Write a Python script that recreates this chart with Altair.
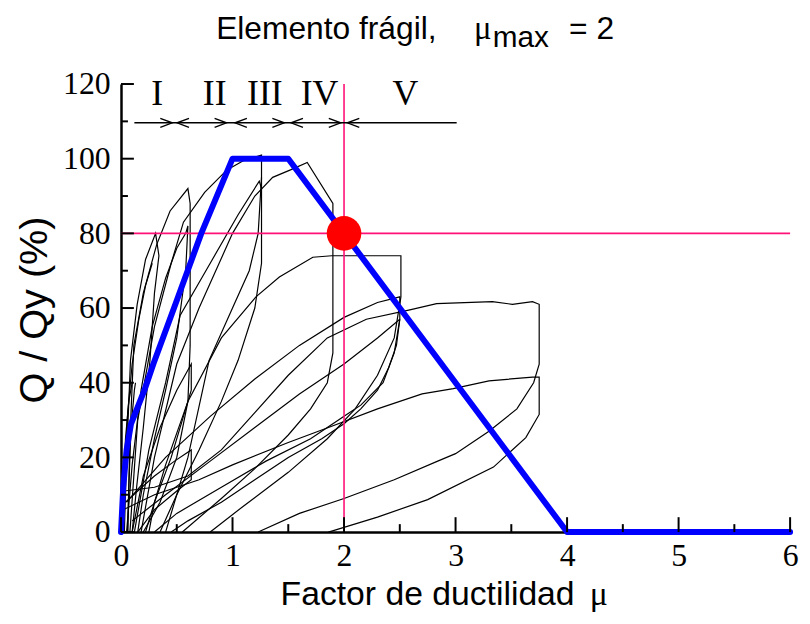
import altair as alt
import pandas as pd

# ---------------- data ----------------
# blue idealised envelope (ductility factor, Q/Qy %)
env_x = [0, 0.02, 0.05, 0.09, 0.13, 0.21, 0.29, 0.5, 0.72, 1.0, 1.5, 4.0, 6.0]
env_y = [0, 12, 22, 29, 32, 38, 45, 62, 80, 100, 100, 0, 0]

# black hysteresis loops
k1_x = [0.03, 0.05, 0.085, 0.145, 0.22, 0.31, 0.34, 0.30, 0.26, 0.20, 0.14, 0.10]
k1_y = [0, 20, 46, 61, 73, 80, 74, 64, 46, 28, 12, 0]
k2_x = [0.06, 0.08, 0.115, 0.2, 0.32, 0.44, 0.60, 0.62, 0.62, 0.60, 0.50, 0.35, 0.20]
k2_y = [0, 25, 50, 64, 77, 86, 92, 88, 50, 35, 20, 8, 0]
k3_x = [0.04, 0.15, 0.3, 0.48, 0.63, 0.63, 0.5, 0.3, 0.15]
k3_y = [8, 11, 15, 19, 22, 14, 11, 6, 0]
k4_x = [0.08, 0.15, 0.3, 0.45, 0.56, 0.75, 0.95, 1.1, 1.26, 1.26, 1.2, 1.05, 0.9, 0.7, 0.5, 0.35]
k4_y = [0, 30, 55, 72, 83, 91, 97, 99.5, 101, 72, 60, 46, 35, 22, 10, 0]
k5_x = [0.12, 0.25, 0.4, 0.53, 0.8, 1.05, 1.24, 1.26]
k5_y = [0, 22, 40, 58, 72, 85, 94, 92]
k6_x = [0.18, 0.3, 0.5, 0.7, 1.0, 1.2, 1.36, 1.52, 1.67, 1.9, 1.9, 1.85, 1.7, 1.5, 1.2, 0.9, 0.55]
k6_y = [0, 20, 45, 60, 80, 90, 95, 97, 99, 88, 48, 40, 33, 26, 17, 9, 0]
k7_x = [0.4, 0.6, 0.79, 1.0, 1.15, 1.23, 1.26]
k7_y = [0, 20, 46, 60, 70, 80, 95]
k8_x = [0.22, 0.4, 0.6, 0.9, 1.21, 1.42, 1.72, 1.89, 2.2, 2.51, 2.51, 2.45, 2.3, 2.1, 1.85, 1.5, 1.1, 0.8]
k8_y = [0, 18, 35, 52, 63, 68.3, 73.6, 74, 74, 74, 63, 52, 42, 33, 25, 16, 7, 0]
k9_x = [0.05, 0.4, 0.8, 1.2, 1.6, 2.0, 2.3, 2.5, 2.5, 2.45, 2.35, 2.15, 2.0, 1.7, 1.3, 0.9, 0.5, 0.3]
k9_y = [8, 20, 31, 41, 50, 57.5, 61.5, 63, 57, 48, 40, 34, 31, 25, 19, 12, 5, 0]
k10_x = [0.03, 0.3, 0.6, 0.9, 1.2, 1.5, 1.85, 2.2, 2.59, 2.83, 3.33, 3.51, 3.69, 3.75,
         3.75, 3.7, 3.55, 3.3, 3.0, 2.84, 2.45, 2.0, 1.6, 1.23]
k10_y = [11, 12, 15, 22, 32, 42, 52, 57, 59.5, 61.2, 61.7, 61, 61.7, 61,
         45, 40, 33, 27, 21, 19, 14, 9, 5, 0]
k11_x = [0.02, 0.3, 0.7, 1.0, 1.5, 1.86, 2.3, 2.7, 2.98, 3.3, 3.69, 3.75, 3.75, 3.63, 3.34, 2.75, 2.3, 1.86]
k11_y = [6, 10, 14, 18, 24, 28, 33, 37, 38.4, 40.5, 41.5, 41.5, 31.5, 25.3, 17.4, 8.7, 4, 0]
k12_x = [0.01, 0.03, 0.06, 0.1, 0.16, 0.22, 0.28]
k12_y = [0, 15, 32, 45, 57, 66, 72]
k13_x = [0.05, 0.1, 0.18, 0.28, 0.4, 0.5, 0.58, 0.6, 0.58, 0.5, 0.4, 0.3, 0.2, 0.15]
k13_y = [0, 18, 38, 55, 68, 76, 80, 82, 70, 52, 38, 25, 10, 0]
k14_x = [0.1, 0.2, 0.35, 0.5, 0.63, 0.63, 0.55, 0.45, 0.3, 0.25]
k14_y = [0, 15, 28, 38, 45, 38, 30, 20, 8, 0]
k15_x = [0.1, 0.4, 0.8, 1.2, 1.6, 2.0, 2.3, 2.5]
k15_y = [3, 10, 19, 28, 37, 45, 52, 57]
k16_x = [2.5, 2.47, 2.4, 2.3, 2.15, 2.0, 1.8, 1.5, 1.2, 0.9, 0.6, 0.45]
k16_y = [57, 50, 44, 38, 33, 29, 25, 20, 14, 8, 3, 0]
k17_x = [0.0, 0.02, 0.04, 0.07, 0.1]
k17_y = [0, 10, 25, 35, 40]
k18_x = [0.06, 0.07, 0.09, 0.12, 0.13]
k18_y = [0, 12, 28, 38, 40]

# annotation values
mu_max = 2
q_level = 80
stage_labels = ["I", "II", "III", "IV", "V"]
stage_x = [0.325, 0.84, 1.29, 1.78, 2.55]
stage_y = 117.2
arrow_y = 109.6
arrow_x0, arrow_x1 = 0.12, 3.01
right_tips = [0.459, 0.946, 1.464, 1.97]
left_tips = [0.503, 1.022, 1.525, 2.03]

# axis ticks
xt_major = [0, 1, 2, 3, 4, 5, 6]
xt_minor = [0.5, 1.5, 2.5, 3.5, 4.5, 5.5]
yt_major = [0, 20, 40, 60, 80, 100, 120]
yt_minor = [10, 30, 50, 70, 90, 110]

# ---------------- build ----------------
W, H = 675, 452
xs = alt.Scale(domain=[0, 6], nice=False, zero=False)
ys = alt.Scale(domain=[0, 120], nice=False, zero=False)

loops = [(k1_x, k1_y), (k2_x, k2_y), (k3_x, k3_y), (k4_x, k4_y), (k5_x, k5_y),
         (k6_x, k6_y), (k7_x, k7_y), (k8_x, k8_y), (k9_x, k9_y), (k10_x, k10_y),
         (k11_x, k11_y), (k12_x, k12_y), (k13_x, k13_y), (k14_x, k14_y),
         (k15_x, k15_y), (k16_x, k16_y), (k17_x, k17_y), (k18_x, k18_y)]
rows = []
for cid, (lx, ly) in enumerate(loops):
    for i, (a, b) in enumerate(zip(lx, ly)):
        rows.append({"id": cid, "i": i, "x": a, "y": b})
loop_df = pd.DataFrame(rows)
env_df = pd.DataFrame({"x": env_x, "y": env_y, "i": list(range(len(env_x)))})

x_axis = alt.Axis(values=xt_major, ticks=False, grid=False, domainColor="black",
                  domainWidth=2.5, labelFont="Liberation Serif", labelFontSize=32,
                  labelColor="black", labelPadding=9, labelFlush=False,
                  labelOverlap=False, title=None)
y_axis = alt.Axis(values=yt_major, ticks=False, grid=False, domainColor="black",
                  domainWidth=2.5, labelFont="Liberation Serif", labelFontSize=32,
                  labelColor="black", labelPadding=11, labelFlush=False,
                  labelOverlap=False, title=None)


def X(field="x"):
    return alt.X(field + ":Q", scale=xs, axis=x_axis)


def Y(field="y"):
    return alt.Y(field + ":Q", scale=ys, axis=y_axis)


curves = alt.Chart(loop_df).mark_line(color="black", strokeWidth=1.2).encode(
    x=X(), y=Y(), detail="id:N", order="i:Q")

pink = "#ff1177"
hline = alt.Chart(pd.DataFrame({"y": [q_level]})).mark_rule(color=pink, strokeWidth=1.6).encode(
    y=Y(), x=alt.value(0), x2=alt.value(W))
vline = alt.Chart(pd.DataFrame({"x": [mu_max], "y": [0], "y2": [120]})).mark_rule(
    color=pink, strokeWidth=1.6).encode(x=X(), y=Y(), y2="y2:Q")

envelope = alt.Chart(env_df).mark_line(color="#0000ff", strokeWidth=6, strokeJoin="round",
                                       strokeCap="round").encode(x=X(), y=Y(), order="i:Q")

dot = alt.Chart(pd.DataFrame({"x": [mu_max], "y": [q_level]})).mark_circle(
    color="#ff0000", size=1220, opacity=1).encode(x=X(), y=Y())

# stage band arrows
arrow_line = alt.Chart(pd.DataFrame({"x": [arrow_x0], "x2": [arrow_x1], "y": [arrow_y]})).mark_rule(
    color="black", strokeWidth=1.5).encode(x=X(), x2="x2:Q", y=Y())
heads_r = alt.Chart(pd.DataFrame({"x": right_tips, "y": [arrow_y] * 4})).mark_point(
    shape="M -2 -0.75 L 0 0 L -2 0.75", size=144, filled=False, color="black",
    strokeWidth=1.4, opacity=1).encode(x=X(), y=Y())
heads_l = alt.Chart(pd.DataFrame({"x": left_tips, "y": [arrow_y] * 4})).mark_point(
    shape="M 2 -0.75 L 0 0 L 2 0.75", size=144, filled=False, color="black",
    strokeWidth=1.4, opacity=1).encode(x=X(), y=Y())
stages = alt.Chart(pd.DataFrame({"x": stage_x, "y": [stage_y] * 5, "t": stage_labels})).mark_text(
    font="Liberation Serif", fontSize=36, color="black", baseline="middle", align="center").encode(
    x=X(), y=Y(), text="t:N")


# inward ticks
def xticks(vals, length):
    return alt.Chart(pd.DataFrame({"x": vals})).mark_rule(color="black", strokeWidth=2).encode(
        x=X(), y=alt.value(H), y2=alt.value(H - length))


def yticks(vals, length):
    return alt.Chart(pd.DataFrame({"y": vals})).mark_rule(color="black", strokeWidth=2).encode(
        y=Y(), x=alt.value(0), x2=alt.value(length))


# texts (titles)
def label(text, px, py, font, size, angle=0, align="left"):
    return alt.Chart(pd.DataFrame({"t": [text]})).mark_text(
        font=font, fontSize=size, color="black", align=align, baseline="alphabetic",
        angle=angle).encode(x=alt.value(px), y=alt.value(py), text="t:N")


title1 = label("Elemento frágil,", 96, -45, "Liberation Sans", 32)
title_mu = label("μ", 356, -45, "Liberation Serif", 33)
title_sub = label("max", 375, -37, "Liberation Sans", 30)
title_eq = label("= " + str(mu_max), 452, -45, "Liberation Sans", 32)
xtitle = label("Factor de ductilidad", 161, 526, "Liberation Sans", 34)
xtitle_mu = label("μ", 473, 526, "Liberation Serif", 34)
ytitle = label("Q / Qy (%)", -75, 228, "Liberation Sans", 40, angle=270, align="center")

chart = alt.layer(
    curves, hline, vline, envelope,
    xticks(xt_major, 15), xticks(xt_minor, 8), yticks(yt_major, 13), yticks(yt_minor, 7),
    arrow_line, heads_r, heads_l, stages, dot,
    title1, title_mu, title_sub, title_eq, xtitle, xtitle_mu, ytitle,
).properties(
    width=W, height=H,
    padding={"left": 114, "top": 74, "right": 12, "bottom": 84},
    autosize=alt.AutoSizeParams(type="none"),
).configure_view(strokeWidth=0)

chart.save("out.html", embed_options={"renderer": "svg", "actions": False})
